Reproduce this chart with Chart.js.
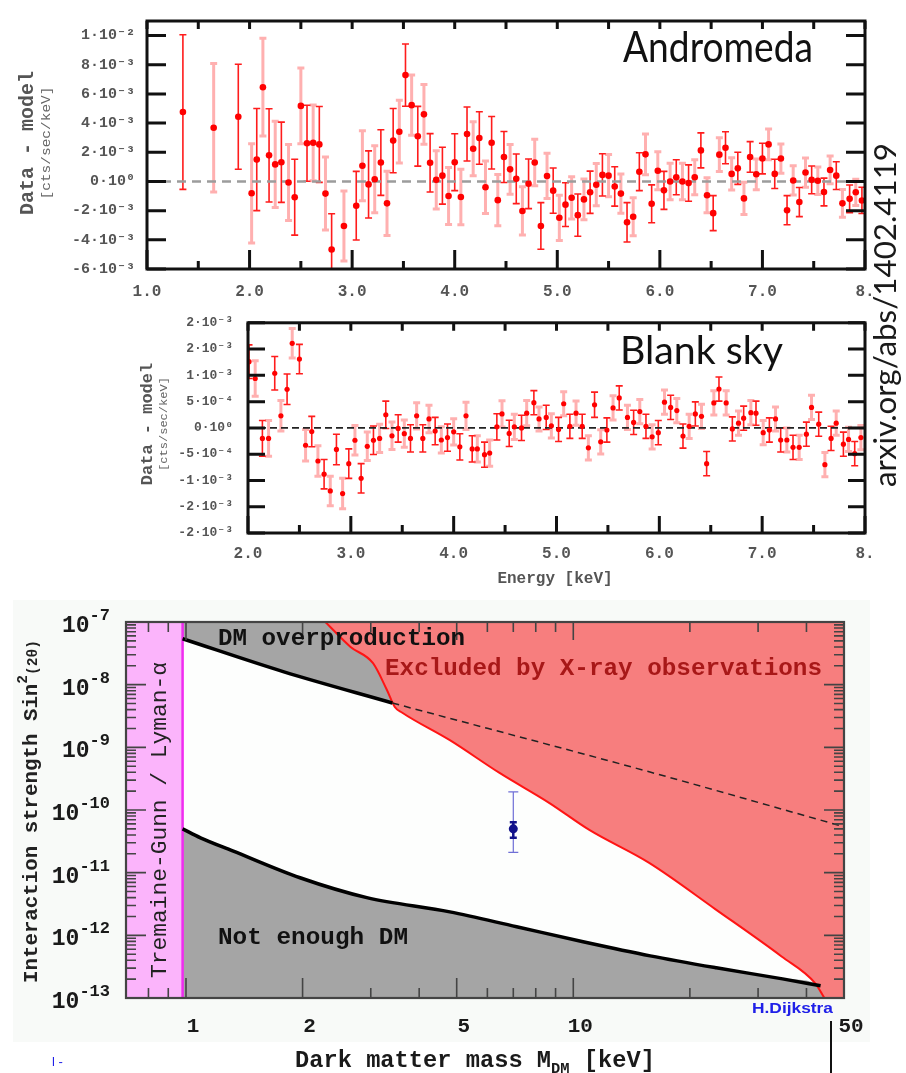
<!DOCTYPE html>
<html>
<head>
<meta charset="utf-8">
<script src="https://cdn.jsdelivr.net/npm/chart.js@4.4.1/dist/chart.umd.min.js"></script>
<style>
  html, body { margin: 0; padding: 0; background: #fff; }
  #page { position: relative; width: 906px; height: 1073px; overflow: hidden; }
  #page canvas { position: absolute; left: 0; }
  #panel { position: absolute; left: 13px; top: 600px; width: 857px; height: 442px; background: #f8faf8; }
  #arxiv { position: absolute; left: 869px; top: 487px; font: 30px Lato; line-height: 30px;
           white-space: nowrap; color: #1a1a1a; transform-origin: 0 0; }
</style>
</head>
<body>
<div id="page">
  <div id="panel"></div>
  <canvas id="andromeda" width="906" height="300" style="top:0"></canvas>
  <canvas id="blanksky" width="906" height="290" style="top:300px"></canvas>
  <canvas id="limits" width="906" height="483" style="top:590px"></canvas>
  <span id="arxiv">arxiv.org/abs/1402.4119</span>
</div>
<script>
// Andromeda residuals, in units of 1e-3 cts/sec/keV
const andromedaEnergy = [1.35, 1.65, 1.89, 2.02, 2.07, 2.13, 2.19, 2.25, 2.31, 2.38, 2.44, 2.50, 2.56, 2.62, 2.68, 2.74, 2.80, 2.92, 3.04, 3.10,
  3.16, 3.22, 3.28, 3.34, 3.40, 3.46, 3.52, 3.58, 3.64, 3.70, 3.76, 3.82, 3.88, 3.94, 4.00, 4.06, 4.12, 4.18, 4.24, 4.30,
  4.36, 4.42, 4.48, 4.54, 4.60, 4.66, 4.72, 4.78, 4.84, 4.90, 4.96, 5.02, 5.08, 5.14, 5.20, 5.26, 5.32, 5.38, 5.44, 5.50,
  5.56, 5.62, 5.68, 5.74, 5.80, 5.86, 5.92, 5.98, 6.04, 6.10, 6.16, 6.22, 6.28, 6.34, 6.40, 6.46, 6.52, 6.58, 6.64, 6.70,
  6.76, 6.82, 6.88, 6.94, 7.00, 7.06, 7.12, 7.18, 7.24, 7.30, 7.36, 7.42, 7.48, 7.54, 7.60, 7.66, 7.72, 7.78, 7.85, 7.91, 7.97];
const andromedaResid = [4.76, 3.68, 4.44, -0.81, 1.50, 6.46, 1.79, 1.17, 1.32, -0.07, -1.08, 5.18, 2.62, 2.65, 2.54, -0.83, -4.66, -3.05, -1.66, 1.08,
  -0.20, 0.15, 1.30, -1.50, 2.80, 3.41, 7.29, 5.23, 3.10, 4.60, 1.28, 0.11, 0.40, -1.00, 1.32, -1.06, 3.25, 2.24, 2.98, -0.40,
  2.65, -1.28, 1.68, 0.83, 0.18, -2.02, -0.16, 1.30, -3.05, 0.38, -0.63, -2.49, -1.59, -1.12, -2.31, -1.23, -0.74, -0.22, 0.45, 0.40,
  -0.34, -0.83, -2.80, -2.42, 0.67, 1.86, -1.53, 0.74, -0.61, 0.00, 0.29, 0.00, -0.11, 0.29, 2.13, -0.94, -2.17, 1.84, 2.31, 0.52,
  0.90, -1.16, 1.68, 0.49, 1.57, 2.54, 0.52, 1.57, -1.97, 0.07, -1.41, 0.61, 0.11, 0.05, -0.72, 0.79, 0.40, -1.50, -1.19, -0.74, -1.30];
const andromedaErr = [5.3, 4.4, 3.6, 3.4, 3.5, 3.35, 3.2, 2.95, 2.75, 2.6, 2.6, 2.6, 2.6, 2.6, 2.6, 2.5, 2.45, 2.4, 2.35, 2.4,
  2.3, 2.3, 2.25, 2.2, 2.2, 2.15, 2.13, 2.07, 2.05, 2.05, 2.0, 2.0, 1.95, 1.95, 1.95, 1.9, 1.85, 1.85, 1.8, 1.8,
  1.8, 1.75, 1.75, 1.7, 1.7, 1.65, 1.7, 1.6, 1.6, 1.55, 1.55, 1.55, 1.5, 1.45, 1.45, 1.4, 1.45, 1.45, 1.45, 1.45,
  1.35, 1.35, 1.35, 1.3, 1.3, 1.4, 1.3, 1.3, 1.3, 1.25, 1.2, 1.25, 1.25, 1.2, 1.2, 1.2, 1.2, 1.15, 1.1, 1.1,
  1.1, 1.1, 1.05, 1.05, 1.05, 1.05, 1.0, 1.0, 1.0, 1.0, 1.0, 1.0, 0.95, 0.95, 0.95, 0.95, 0.95, 0.95, 0.95, 0.9, 0.9];

// Blank-sky residuals, in units of 1e-4 cts/sec/keV
const blankEnergy = [2.01, 2.07, 2.14, 2.20, 2.26, 2.32, 2.38, 2.43, 2.50, 2.56, 2.62, 2.68, 2.74, 2.80, 2.86, 2.92, 2.98, 3.04, 3.10, 3.16,
  3.22, 3.28, 3.34, 3.40, 3.46, 3.52, 3.58, 3.64, 3.70, 3.76, 3.82, 3.88, 3.94, 4.00, 4.06, 4.12, 4.18, 4.23, 4.30, 4.35,
  4.42, 4.47, 4.54, 4.59, 4.66, 4.71, 4.78, 4.83, 4.90, 4.95, 5.02, 5.07, 5.13, 5.19, 5.25, 5.31, 5.37, 5.43, 5.49, 5.55,
  5.61, 5.69, 5.75, 5.81, 5.87, 5.93, 5.99, 6.05, 6.11, 6.17, 6.23, 6.29, 6.35, 6.41, 6.46, 6.53, 6.58, 6.65, 6.71, 6.77,
  6.82, 6.89, 6.94, 7.01, 7.07, 7.13, 7.18, 7.24, 7.30, 7.36, 7.43, 7.48, 7.55, 7.61, 7.67, 7.72, 7.79, 7.84, 7.90, 7.96];
const blankResid = [12.6, 9.4, -2.0, -2.0, 10.4, 2.3, 7.35, 16.1, 13.1, -3.3, -0.7, -6.3, -8.8, -12.0, -4.1, -12.5, -6.8, -2.35, -9.6, -3.5,
  -2.35, -2.0, 2.5, -1.5, -0.1, -1.1, -2.0, 2.3, -2.0, 1.7, -0.6, -2.3, -1.85, -0.75, -3.6, 2.3, -4.0, -4.0, -5.1, -4.8,
  0.2, 2.65, -1.05, 0.2, 0.0, 2.8, 4.8, 1.7, 2.0, 0.4, -0.3, 4.6, 0.3, 2.8, 0.3, -3.8, 4.4, -2.65, -0.4, 3.8,
  5.7, 2.0, 1.05, 3.1, 0.3, -1.7, -0.9, 4.9, 3.9, 3.3, -1.55, 0.3, 2.65, 2.2, -6.8, 4.75, 7.4, 4.75, -0.2, 0.9,
  1.85, 2.9, 2.8, -0.9, -0.4, 1.7, -2.3, -2.3, -3.7, -3.7, -1.2, 3.9, 0.7, -7.0, -2.0, 0.9, -3.1, -2.2, -4.9, -1.85];
const blankErr = [3.2, 3.4, 3.4, 3.4, 3.2, 2.9, 2.9, 2.8, 2.8, 3.0, 2.9, 2.9, 2.8, 2.8, 2.9, 2.9, 2.8, 2.8, 2.8, 2.7,
  2.7, 2.7, 2.6, 2.6, 2.6, 2.6, 2.6, 2.5, 2.6, 2.6, 2.6, 2.5, 2.6, 2.5, 2.5, 2.6, 2.5, 2.5, 2.4, 2.5,
  2.5, 2.5, 2.5, 2.4, 2.4, 2.4, 2.3, 2.3, 2.3, 2.3, 2.3, 2.3, 2.3, 2.3, 2.3, 2.3, 2.4, 2.3, 2.3, 2.3,
  2.3, 2.3, 2.3, 2.3, 2.3, 2.3, 2.3, 2.3, 2.3, 2.3, 2.3, 2.3, 2.3, 2.3, 2.3, 2.3, 2.3, 2.3, 2.3, 2.3,
  2.3, 2.3, 2.3, 2.3, 2.3, 2.3, 2.3, 2.3, 2.3, 2.3, 2.3, 2.3, 2.3, 2.3, 2.3, 2.3, 2.3, 2.3, 2.3, 2.3];

// energy axes
const andromedaXTicks = [1, 2, 3, 4, 5, 6, 7, 8];
const andromedaXLabels = ['1.0', '2.0', '3.0', '4.0', '5.0', '6.0', '7.0', '8.'];
const andromedaXMinor = [1.5, 2.5, 3.5, 4.5, 5.5, 6.5, 7.5];
const blankXTicks = [2, 3, 4, 5, 6, 7, 8];
const blankXLabels = ['2.0', '3.0', '4.0', '5.0', '6.0', '7.0', '8.'];
const blankXMinor = [2.5, 3.5, 4.5, 5.5, 6.5, 7.5];
const andromedaYTicks = [-6e-3, -4e-3, -2e-3, 0, 2e-3, 4e-3, 6e-3, 8e-3, 1e-2];
const blankYTicks = [-2e-3, -1.5e-3, -1e-3, -5e-4, 0, 5e-4, 1e-3, 1.5e-3, 2e-3];

// sterile neutrino parameter space: mass [keV] vs sin^2(2 theta)
const tgMass = [0.7, 0.98];
const overMass = [0.98, 1.79, 3.41];
const overMix = [5.4e-8, 1.6e-8, 5.1e-9];
const overDashMass = [3.41, 15.7, 50];
const overDashMix = [5.1e-9, 4.07e-10, 5.4e-11];
const underMass = [0.98, 1.09, 1.32, 1.97, 2.93, 4.80, 7.14, 10.6, 15.8, 23.4, 34.7, 43.5];
const underMix = [5.0e-11, 3.6e-11, 2.23e-11, 8.3e-12, 4.0e-12, 2.37e-12, 1.37e-12, 7.9e-13, 4.7e-13, 3.03e-13, 2.02e-13, 1.57e-13];
const xrayMass = [2.29, 2.66, 3.04, 3.30, 3.46, 3.61, 4.80, 6.45, 8.68, 11.0, 15.7, 23.3, 34.5, 42.1, 44.5];
const xrayMix = [1e-7, 4e-8, 2.2e-8, 8.3e-9, 4.4e-9, 3.6e-9, 1.3e-9, 3.9e-10, 1.29e-10, 4.8e-11, 1.43e-11, 2.6e-12, 4.6e-13, 1.73e-13, 1e-13];
const lineMass = [7.0];
const lineMix = [5e-11];
const lineOuter = [[2.1e-11, 1.94e-10]];
const lineInner = [[3.6e-11, 6.4e-11]];
const massTicks = [1, 2, 5, 10, 50];
const massLabels = ['1', '2', '5', '10', '50'];
const massMinor = [0.8, 0.9, 3, 4, 6, 7, 8, 9, 20, 30, 40];
const mixDecades = [-13, -12, -11, -10, -9, -8, -7];

const MONO = "'Liberation Mono', 'DejaVu Sans Mono', monospace";
const SUP = { '-': '⁻', '0': '⁰', '1': '¹', '2': '²', '3': '³', '4': '⁴', '5': '⁵', '6': '⁶', '7': '⁷', '8': '⁸', '9': '⁹' };

function sciLabel(v) {
  if (Math.abs(v) < 1e-12) return '0·10⁰';
  const e = Math.floor(Math.log10(Math.abs(v)) + 1e-9);
  const m = Math.sign(v) * Math.round(Math.abs(v) / Math.pow(10, e) + 1e-9);
  return m + '·10' + String(e).split('').map(c => SUP[c]).join('');
}

// alternate points go to the two detector series
function splitSeries(energy, resid, err, unit, parity) {
  const pts = [], lo = [], hi = [];
  energy.forEach((e, i) => {
    if (i % 2 !== parity) return;
    pts.push({ x: e, y: resid[i] * unit });
    lo.push((resid[i] - err[i]) * unit);
    hi.push((resid[i] + err[i]) * unit);
  });
  return { pts, lo, hi };
}

const xy = (xs, ys) => xs.map((x, i) => ({ x, y: ys[i] }));

// vertical error bars, clipped to the plot area
const errorBars = {
  id: 'errorBars',
  beforeDatasetsDraw(chart) {
    const { ctx, chartArea: a } = chart;
    ctx.save();
    ctx.beginPath();
    ctx.rect(a.left, a.top, a.right - a.left, a.bottom - a.top);
    ctx.clip();
    chart.data.datasets.forEach((ds, i) => {
      if (!ds.errLow) return;
      const meta = chart.getDatasetMeta(i);
      const ys = chart.scales[meta.yAxisID];
      ctx.strokeStyle = ds.errColor;
      ctx.lineWidth = ds.errWidth;
      meta.data.forEach((pt, j) => {
        const y1 = ys.getPixelForValue(ds.errHigh[j]);
        const y2 = ys.getPixelForValue(ds.errLow[j]);
        const c = ds.capHalf;
        ctx.beginPath();
        ctx.moveTo(pt.x, y1); ctx.lineTo(pt.x, y2);
        ctx.moveTo(pt.x - c, y1); ctx.lineTo(pt.x + c, y1);
        ctx.moveTo(pt.x - c, y2); ctx.lineTo(pt.x + c, y2);
        ctx.stroke();
      });
    });
    ctx.restore();
  }
};

// inward tick marks on all four sides plus the box
const frameTicks = {
  id: 'frameTicks',
  beforeDraw(chart, args, o) {
    if (!o.fill) return;
    const { ctx, chartArea: a } = chart;
    ctx.save();
    ctx.fillStyle = o.fill;
    ctx.fillRect(a.left, a.top, a.right - a.left, a.bottom - a.top);
    ctx.restore();
  },
  afterDatasetsDraw(chart, args, o) {
    const { ctx, chartArea: a, scales } = chart;
    ctx.save();
    ctx.strokeStyle = o.color;
    ctx.lineWidth = o.tickWidth;
    ctx.beginPath();
    (o.x || []).forEach(g => g.values.forEach(v => {
      const px = scales.x.getPixelForValue(v);
      if (g.bottom) { ctx.moveTo(px, a.bottom); ctx.lineTo(px, a.bottom - g.bottom); }
      if (g.top) { ctx.moveTo(px, a.top); ctx.lineTo(px, a.top + g.top); }
    }));
    (o.y || []).forEach(g => g.values.forEach(v => {
      const py = scales.y.getPixelForValue(v);
      if (g.left) { ctx.moveTo(a.left, py); ctx.lineTo(a.left + g.left, py); }
      if (g.right) { ctx.moveTo(a.right, py); ctx.lineTo(a.right - g.right, py); }
    }));
    ctx.stroke();
    ctx.lineWidth = o.frameWidth;
    ctx.strokeRect(a.left, a.top, a.right - a.left, a.bottom - a.top);
    ctx.restore();
  }
};

function drawRuns(ctx, it) {
  const runs = it.runs || [{ text: it.text }];
  let w = 0;
  runs.forEach(r => { ctx.font = r.font || it.font; r._w = ctx.measureText(r.text).width; w += r._w; });
  const sx = it.width ? it.width / w : 1;
  ctx.save();
  ctx.translate(it.x, it.y);
  if (it.rotate) ctx.rotate(it.rotate);
  ctx.scale(sx, 1);
  let x = it.align === 'center' ? -w / 2 : it.align === 'right' ? -w : 0;
  ctx.fillStyle = it.color || '#111';
  ctx.textAlign = 'left';
  ctx.textBaseline = 'alphabetic';
  runs.forEach(r => {
    ctx.font = r.font || it.font;
    ctx.fillText(r.text, x, r.dy || 0);
    x += r._w;
  });
  ctx.restore();
}

// free text: panel names, axis titles, region names
const notes = {
  id: 'notes',
  afterDraw(chart, args, o) {
    const ctx = chart.ctx;
    (o.items || []).forEach(it => drawRuns(ctx, it));
    (o.lines || []).forEach(l => {
      ctx.save();
      ctx.strokeStyle = l.color; ctx.lineWidth = l.width;
      ctx.beginPath(); ctx.moveTo(l.x1, l.y1); ctx.lineTo(l.x2, l.y2); ctx.stroke();
      ctx.restore();
    });
  }
};

// 10^n labels on the log axis
const decadeLabels = {
  id: 'decadeLabels',
  afterDraw(chart, args, o) {
    if (!o.decades) return;
    const ys = chart.scales.y;
    o.decades.forEach(n => {
      const py = ys.getPixelForValue(Math.pow(10, n));
      drawRuns(chart.ctx, {
        x: o.right, y: py + 10, align: 'right', color: '#1a1a1a',
        runs: [
          { text: '10', font: 'bold 23px ' + MONO },
          { text: String(n), font: 'bold 17px ' + MONO, dy: -12 }
        ]
      });
    });
  }
};

Chart.register(errorBars, frameTicks, notes, decadeLabels);

function residualChart(id, opt) {
  const a = splitSeries(opt.energy, opt.resid, opt.err, opt.unit, 0);
  const b = splitSeries(opt.energy, opt.resid, opt.err, opt.unit, 1);
  const pointStyle = { showLine: false, pointRadius: opt.dot, pointBackgroundColor: '#ff0000', pointBorderWidth: 0, capHalf: 3.5 };
  return new Chart(document.getElementById(id), {
    type: 'line',
    data: {
      datasets: [
        { data: a.pts, errLow: a.lo, errHigh: a.hi, errColor: '#ff1c1c', errWidth: 1.6, order: 1, ...pointStyle },
        { data: b.pts, errLow: b.lo, errHigh: b.hi, errColor: 'rgba(255,80,80,0.45)', errWidth: 3, order: 2, ...pointStyle },
        { data: xy([opt.xMin, 8], [0, 0]), borderColor: opt.zeroColor, borderWidth: opt.zeroWidth,
          borderDash: opt.zeroDash, pointRadius: 0, order: 5 }
      ]
    },
    options: {
      responsive: false, animation: false, devicePixelRatio: 1,
      layout: { padding: opt.padding },
      plugins: {
        legend: { display: false }, tooltip: { enabled: false },
        frameTicks: {
          color: '#111', tickWidth: 3, frameWidth: 3,
          x: [{ values: opt.xTicks, bottom: opt.major, top: 8 }, { values: opt.xMinor, bottom: 8, top: 8 }],
          y: [{ values: opt.yTicks, left: opt.major, right: opt.major }]
        },
        notes: { items: opt.notes }
      },
      scales: {
        x: {
          type: 'linear', min: opt.xMin, max: 8,
          afterFit(s) { s.height = opt.xHeight; },
          afterBuildTicks(s) { s.ticks = opt.xTicks.map(v => ({ value: v })); },
          grid: { display: false, drawTicks: false }, border: { display: false },
          ticks: {
            autoSkip: false, maxRotation: 0, padding: opt.xPad, color: '#555',
            font: { family: MONO, size: 16, weight: 'bold' },
            callback: (v, i) => opt.xLabels[i]
          }
        },
        y: {
          type: 'linear', min: opt.yMin, max: opt.yMax,
          afterFit(s) { s.width = opt.yWidth; },
          afterBuildTicks(s) { s.ticks = opt.yTicks.map(v => ({ value: v })); },
          grid: { display: false, drawTicks: false }, border: { display: false },
          ticks: {
            autoSkip: false, padding: opt.yPad, color: '#555',
            font: { family: MONO, size: opt.yFont, weight: 'bold' },
            callback: v => sciLabel(v)
          }
        }
      }
    }
  });
}

residualChart('andromeda', {
  energy: andromedaEnergy, resid: andromedaResid, err: andromedaErr, unit: 1e-3, dot: 3.3,
  xMin: 1, xTicks: andromedaXTicks, xLabels: andromedaXLabels, xMinor: andromedaXMinor,
  yMin: -6e-3, yMax: 1.1e-2, yTicks: andromedaYTicks, yFont: 15,
  padding: { left: 0, right: 41, top: 17, bottom: 0 }, xHeight: 31, yWidth: 147, xPad: 13, yPad: 12, major: 19,
  zeroColor: '#9c9c9c', zeroWidth: 2.5, zeroDash: [9, 6],
  notes: [
    { text: 'Data - model', font: 'bold 20px ' + MONO, color: '#555', x: 33, y: 143, rotate: -Math.PI / 2, align: 'center' },
    { text: '[cts/sec/keV]', font: '12px ' + MONO, color: '#666', x: 50, y: 143, rotate: -Math.PI / 2, align: 'center', width: 113 },
    { text: 'Andromeda', font: '43px Lato', color: '#111', x: 623, y: 62, width: 190 }
  ]
});

residualChart('blanksky', {
  energy: blankEnergy, resid: blankResid, err: blankErr, unit: 1e-4, dot: 2.6,
  xMin: 2, xTicks: blankXTicks, xLabels: blankXLabels, xMinor: blankXMinor,
  yMin: -2e-3, yMax: 2e-3, yTicks: blankYTicks, yFont: 13,
  padding: { left: 0, right: 41, top: 15, bottom: 0 }, xHeight: 57, yWidth: 248, xPad: 11, yPad: 15, major: 17,
  zeroColor: '#222', zeroWidth: 1.6, zeroDash: [7, 4],
  notes: [
    { text: 'Data - model', font: 'bold 17px ' + MONO, color: '#555', x: 152, y: 124, rotate: -Math.PI / 2, align: 'center' },
    { text: '[cts/sec/keV]', font: '11px ' + MONO, color: '#666', x: 167, y: 124, rotate: -Math.PI / 2, align: 'center', width: 94 },
    { text: 'Energy [keV]', font: 'bold 16px ' + MONO, color: '#555', x: 555, y: 283, align: 'center' },
    { text: 'Blank sky', font: '38px Lato', color: '#111', x: 620, y: 64, width: 163 }
  ]
});

const yBottom = 1e-13, yTop = 1e-7;
const smooth = { cubicInterpolationMode: 'monotone', pointRadius: 0 };
new Chart(document.getElementById('limits'), {
  type: 'line',
  data: {
    datasets: [
      // detected line with its two error ranges
      { data: xy(lineMass, lineMix), showLine: false, pointRadius: 4.5, pointBackgroundColor: '#12128a', pointBorderWidth: 0,
        errLow: lineOuter.map(r => r[0]), errHigh: lineOuter.map(r => r[1]), errColor: '#6f6fd6', errWidth: 1.2, capHalf: 5, order: 0 },
      { data: xy(lineMass, lineMix), showLine: false, pointRadius: 0,
        errLow: lineInner.map(r => r[0]), errHigh: lineInner.map(r => r[1]), errColor: '#12128a', errWidth: 2.5, capHalf: 3.5, order: 0 },
      // boundaries
      { data: xy(overMass, overMix), borderColor: '#000', borderWidth: 3.5, order: 1, ...smooth },
      { data: xy(overDashMass, overDashMix), borderColor: '#222', borderWidth: 1.5, borderDash: [7, 5], order: 1, ...smooth },
      { data: xy(underMass, underMix), borderColor: '#000', borderWidth: 3.5, order: 1, ...smooth },
      { data: xy(xrayMass, xrayMix), borderColor: '#ff1414', borderWidth: 2, order: 1, ...smooth },
      { data: xy([tgMass[1], tgMass[1]], [yBottom, yTop]), borderColor: '#f02cf0', borderWidth: 2.5, pointRadius: 0, order: 1 },
      // filled regions
      { data: xy(xrayMass.concat([50]), xrayMix.concat([yBottom])), borderWidth: 0,
        fill: { value: yTop }, backgroundColor: '#f77e7e', order: 3, ...smooth },
      { data: xy(overMass.concat(overDashMass.slice(1)), overMix.concat(overDashMix.slice(1))), borderWidth: 0,
        fill: { value: yTop }, backgroundColor: '#a5a5a5', order: 4, ...smooth },
      { data: xy(underMass.concat([xrayMass[xrayMass.length - 1]]), underMix.concat([yBottom])), borderWidth: 0,
        fill: { value: yBottom }, backgroundColor: '#a5a5a5', order: 4, ...smooth },
      { data: xy(tgMass, [yTop, yTop]), borderWidth: 0, pointRadius: 0,
        fill: { value: yBottom }, backgroundColor: '#fbb4fb', order: 4 }
    ]
  },
  options: {
    responsive: false, animation: false, devicePixelRatio: 1,
    layout: { padding: { left: 0, right: 62, top: 32, bottom: 0 } },
    plugins: {
      legend: { display: false }, tooltip: { enabled: false },
      frameTicks: {
        fill: '#fdfefd', color: '#444', tickWidth: 1.6, frameWidth: 2.2,
        x: [{ values: massTicks.slice(0, 4), bottom: 20, top: 18 }, { values: massMinor, bottom: 10, top: 10 }],
        y: [{ values: mixDecades.map(n => Math.pow(10, n)), left: 20, right: 20 },
            { values: mixDecades.slice(0, 6).flatMap(n => [2, 3, 4, 5, 6, 7, 8, 9].map(k => k * Math.pow(10, n))), left: 10, right: 10 }]
      },
      decadeLabels: { decades: mixDecades, right: 110 },
      notes: {
        items: [
          { text: 'DM overproduction', font: 'bold 23px ' + MONO, color: '#111', x: 218, y: 55, width: 247 },
          { text: 'Excluded by X-ray observations', font: 'bold 23px ' + MONO, color: '#a81818', x: 385, y: 85, width: 437 },
          { text: 'Not enough DM', font: 'bold 23px ' + MONO, color: '#111', x: 218, y: 354, width: 190 },
          { text: 'Tremaine-Gunn / Lyman-α', font: '22px ' + MONO, color: '#222', x: 166, y: 388, rotate: -Math.PI / 2, width: 316 },
          { x: 37, y: 393, rotate: -Math.PI / 2, color: '#222', width: 343,
            runs: [{ text: 'Interaction strength Sin', font: 'bold 20px ' + MONO },
                   { text: '2', font: 'bold 14px ' + MONO, dy: -10 },
                   { text: '(2θ)', font: 'bold 14px ' + MONO }] },
          { x: 295, y: 477, color: '#1a1a1a', width: 360,
            runs: [{ text: 'Dark matter mass M', font: 'bold 23px ' + MONO },
                   { text: 'DM', font: 'bold 15px ' + MONO, dy: 6 },
                   { text: ' [keV]', font: 'bold 23px ' + MONO }] },
          { text: 'H.Dijkstra', font: 'bold 15px "Liberation Sans"', color: '#2020e8', x: 752, y: 423, width: 81 },
          { text: 'l -', font: '13px "Liberation Sans"', color: '#2020e8', x: 52, y: 476 }
        ],
        lines: [{ x1: 831, y1: 431, x2: 831, y2: 483, color: '#111', width: 2 }]
      }
    },
    scales: {
      x: {
        type: 'logarithmic', min: 0.7, max: 50,
        afterFit(s) { s.height = 75; },
        afterBuildTicks(s) { s.ticks = massTicks.map(v => ({ value: v })); },
        grid: { display: false, drawTicks: false }, border: { display: false },
        ticks: {
          autoSkip: false, maxRotation: 0, padding: 16, labelOffset: 7, color: '#1a1a1a',
          font: { family: MONO, size: 21, weight: 'bold' },
          callback: (v, i) => massLabels[i]
        }
      },
      y: {
        type: 'logarithmic', min: yBottom, max: yTop,
        afterFit(s) { s.width = 126; },
        grid: { display: false, drawTicks: false }, border: { display: false },
        ticks: { display: false }
      }
    }
  }
});

// fit the vertical arXiv reference to its column
const arx = document.getElementById('arxiv');
const mctx = document.createElement('canvas').getContext('2d');
mctx.font = '30px Lato';
arx.style.transform = 'rotate(-90deg) scaleX(' + (344 / mctx.measureText(arx.textContent).width) + ')';
</script>
</body>
</html>
